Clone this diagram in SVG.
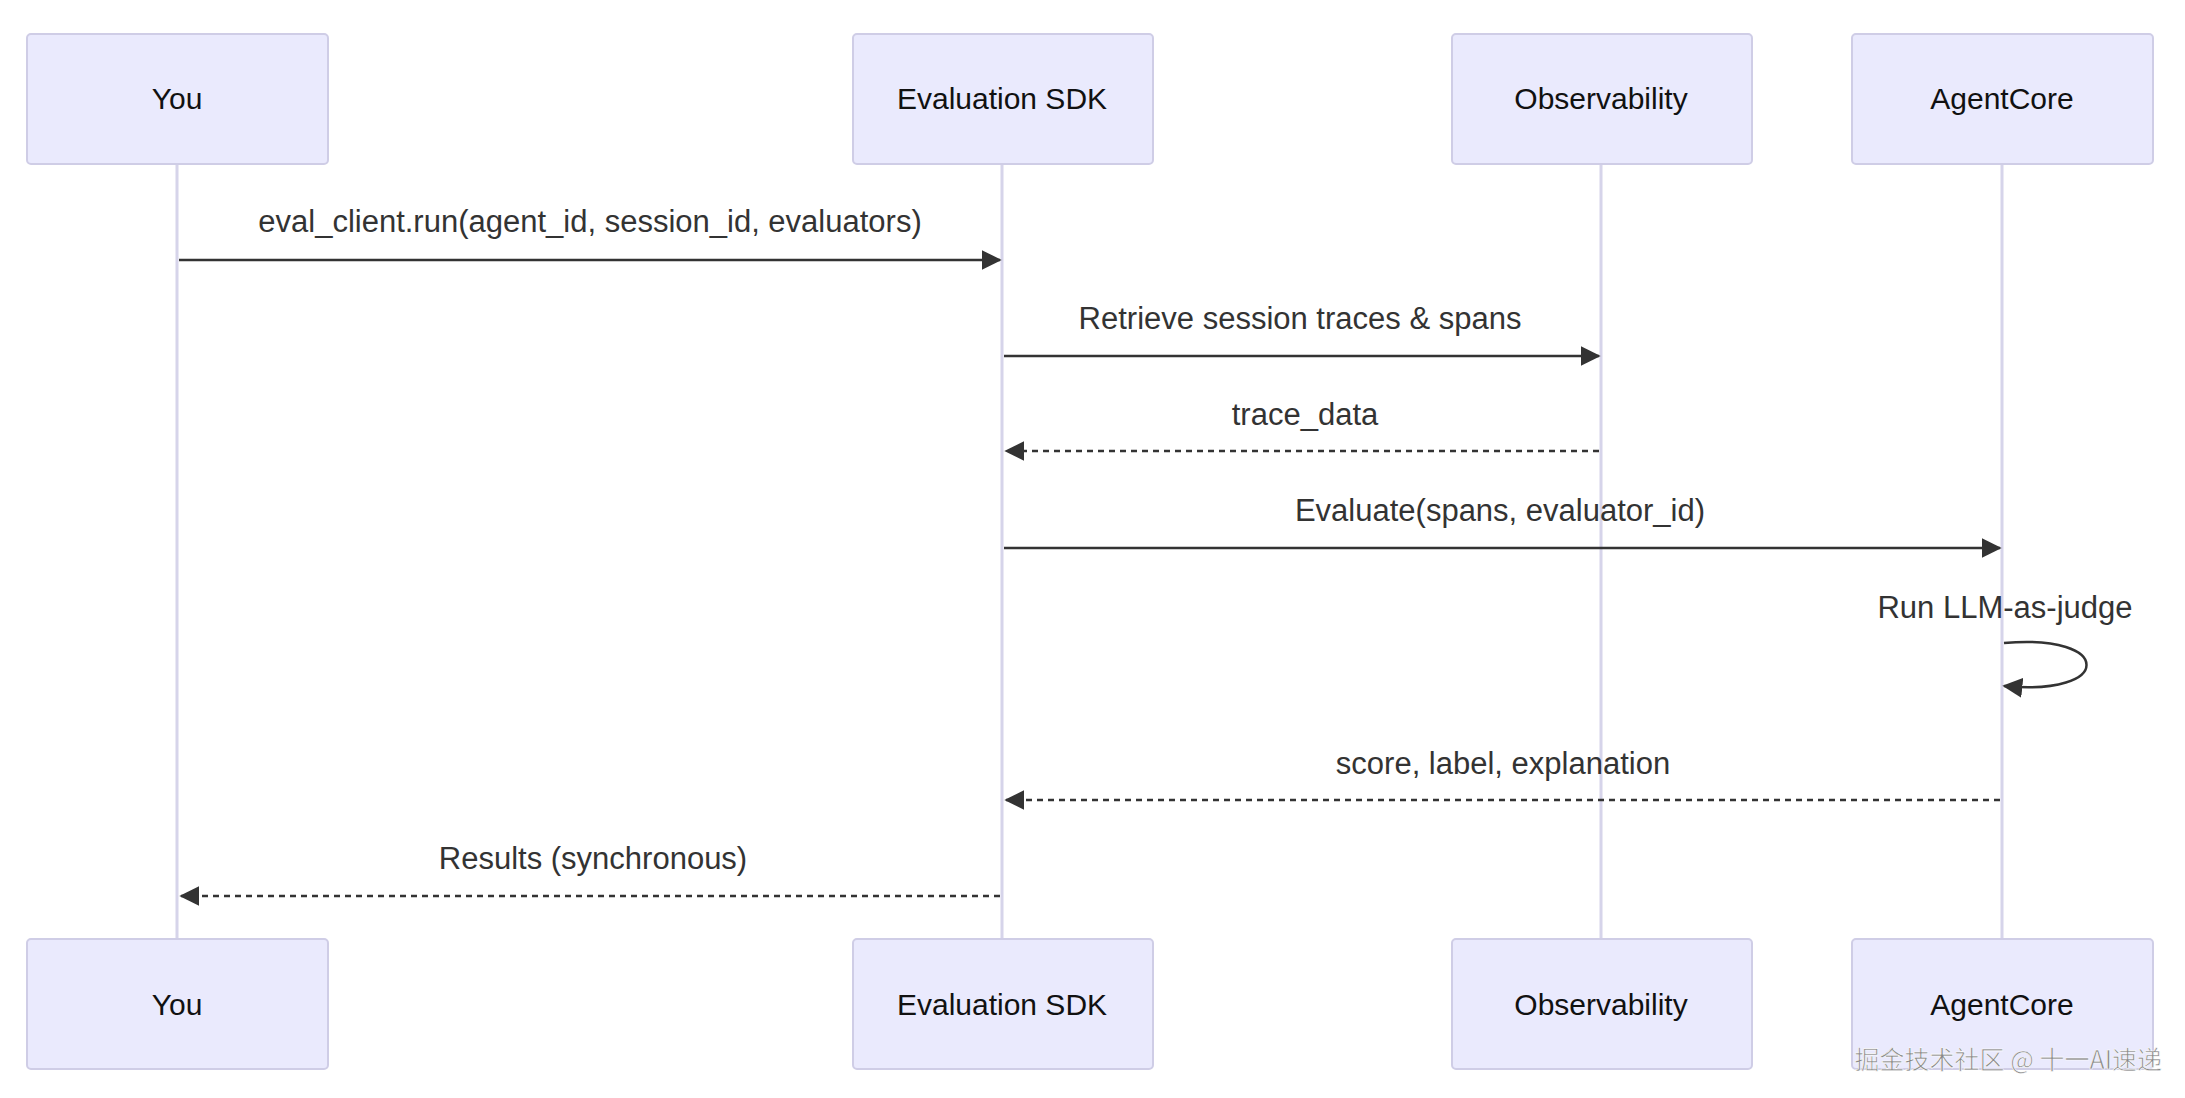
<svg xmlns="http://www.w3.org/2000/svg" width="2185" height="1098" viewBox="0 0 2185 1098">
<style>
.box{fill:#eaeafd;stroke:#cfcde6;stroke-width:2}
.life{stroke:#d6d4ea;stroke-width:3}
.t{font-family:"Liberation Sans",Arial,sans-serif;font-size:30px;fill:#111;text-anchor:middle}
.m{font-family:"Liberation Sans",Arial,sans-serif;font-size:31px;fill:#333;text-anchor:middle}
.a{stroke:#333;stroke-width:2.5;fill:none}
.d{stroke-dasharray:6,5}
</style>
<defs>
<marker id="ah2" viewBox="0 0 12 12" refX="11" refY="6" markerWidth="20" markerHeight="20" orient="auto" markerUnits="userSpaceOnUse"><path d="M0,0 L12,6 L0,12 z" fill="#333"/></marker>
</defs>
<g id="lifelines">
<line class="life" x1="177" y1="164" x2="177" y2="939"/>
<line class="life" x1="1002" y1="164" x2="1002" y2="939"/>
<line class="life" x1="1601" y1="164" x2="1601" y2="939"/>
<line class="life" x1="2002" y1="164" x2="2002" y2="939"/>
</g>
<g id="you-top"><rect class="box" x="27" y="34" width="301" height="130" rx="4"/><text class="t" x="177" y="109">You</text></g>
<g id="sdk-top"><rect class="box" x="853" y="34" width="300" height="130" rx="4"/><text class="t" x="1002" y="109">Evaluation SDK</text></g>
<g id="obs-top"><rect class="box" x="1452" y="34" width="300" height="130" rx="4"/><text class="t" x="1601" y="109">Observability</text></g>
<g id="ac-top"><rect class="box" x="1852" y="34" width="301" height="130" rx="4"/><text class="t" x="2002" y="109">AgentCore</text></g>
<g id="you-bot"><rect class="box" x="27" y="939" width="301" height="130" rx="4"/><text class="t" x="177" y="1015">You</text></g>
<g id="sdk-bot"><rect class="box" x="853" y="939" width="300" height="130" rx="4"/><text class="t" x="1002" y="1015">Evaluation SDK</text></g>
<g id="obs-bot"><rect class="box" x="1452" y="939" width="300" height="130" rx="4"/><text class="t" x="1601" y="1015">Observability</text></g>
<g id="ac-bot"><rect class="box" x="1852" y="939" width="301" height="130" rx="4"/><text class="t" x="2002" y="1015">AgentCore</text></g>
<g id="connectors">
<line class="a" x1="179" y1="260" x2="1000" y2="260" marker-end="url(#ah2)"/>
<line class="a" x1="1004" y1="356" x2="1599" y2="356" marker-end="url(#ah2)"/>
<line class="a d" x1="1599" y1="451" x2="1006" y2="451" marker-end="url(#ah2)"/>
<line class="a" x1="1004" y1="548" x2="2000" y2="548" marker-end="url(#ah2)"/>
<path class="a" d="M2004,643 C2114,633 2114,697 2004,686" marker-end="url(#ah2)"/>
<line class="a d" x1="2000" y1="800" x2="1006" y2="800" marker-end="url(#ah2)"/>
<line class="a d" x1="1000" y1="896" x2="181" y2="896" marker-end="url(#ah2)"/>
</g>
<g id="labels">
<text class="m" x="590" y="232">eval_client.run(agent_id, session_id, evaluators)</text>
<text class="m" x="1300" y="329">Retrieve session traces &amp; spans</text>
<text class="m" x="1305" y="425">trace_data</text>
<text class="m" x="1500" y="521">Evaluate(spans, evaluator_id)</text>
<text class="m" x="2005" y="618">Run LLM-as-judge</text>
<text class="m" x="1503" y="774">score, label, explanation</text>
<text class="m" x="593" y="869">Results (synchronous)</text>
</g>
<text x="2162" y="1069" text-anchor="end" font-family="'Noto Sans CJK SC',sans-serif" font-size="25" fill="#888" stroke="#fff" stroke-width="0.6">掘金技术社区 @ 十一AI速递</text>
</svg>
